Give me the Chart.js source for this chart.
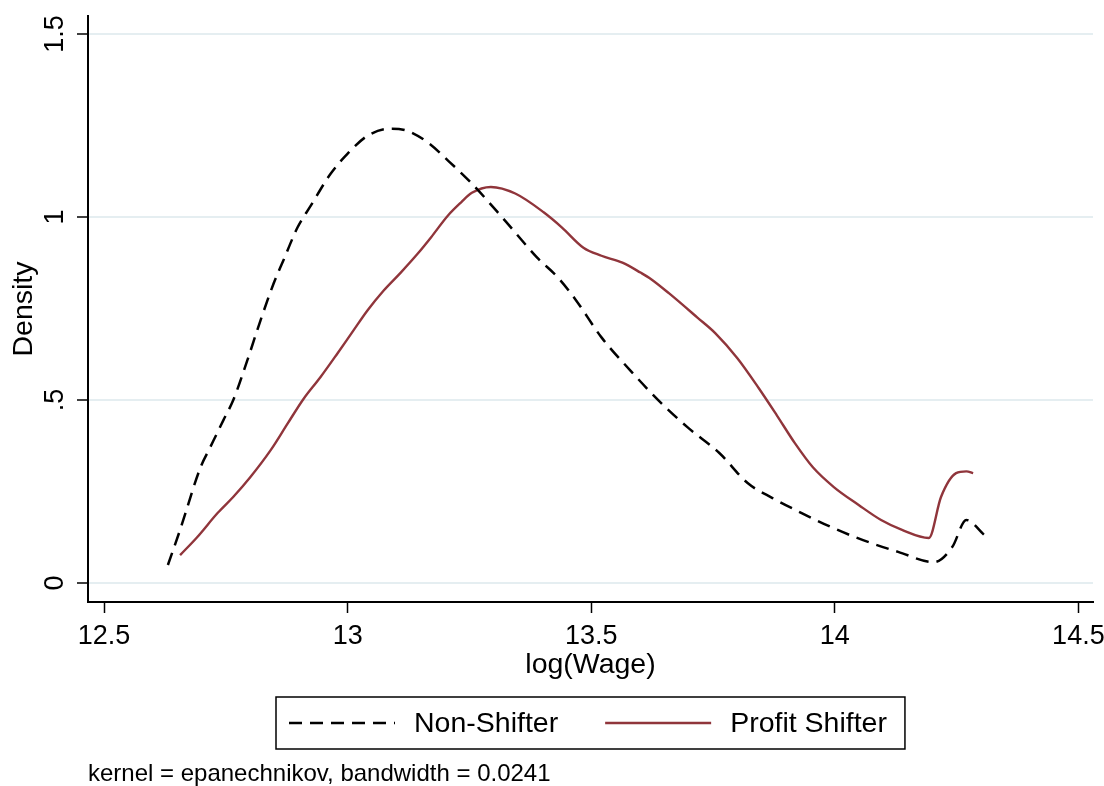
<!DOCTYPE html>
<html>
<head>
<meta charset="utf-8">
<title>Kernel density of log(Wage)</title>
<script src="https://cdn.jsdelivr.net/npm/chart.js@4.4.1/dist/chart.umd.min.js"></script>
<style>
  html, body { margin: 0; padding: 0; background: #fff; }
</style>
</head>
<body>
<canvas id="densityChart" width="1104" height="786"></canvas>
<script>
const xTicks = [12.5, 13, 13.5, 14, 14.5];
const yTicks = [0, 0.5, 1, 1.5];
const seriesLabels = ['Non-Shifter', 'Profit Shifter'];
const noteText = 'kernel = epanechnikov, bandwidth = 0.0241';

// Non-Shifter density
const nonShifterX = [12.631, 12.656, 12.698, 12.718, 12.745, 12.765, 12.794, 12.821, 12.848, 12.868,
  12.897, 12.924, 12.965, 13.000, 13.041, 13.088, 13.123, 13.165, 13.206, 13.255,
  13.323, 13.389, 13.432, 13.469, 13.521, 13.580, 13.638, 13.698, 13.763, 13.821,
  13.872, 13.932, 13.992, 14.058, 14.130, 14.204, 14.241, 14.270, 14.307];
const nonShifterY = [0.049, 0.145, 0.316, 0.371, 0.445, 0.499, 0.608, 0.717, 0.818, 0.881,
  0.971, 1.030, 1.118, 1.173, 1.222, 1.241, 1.235, 1.203, 1.154, 1.091,
  0.990, 0.889, 0.834, 0.772, 0.671, 0.581, 0.499, 0.425, 0.355, 0.273,
  0.232, 0.191, 0.153, 0.117, 0.085, 0.057, 0.098, 0.172, 0.131];

// Profit Shifter density
const profitX = [12.656, 12.691, 12.733, 12.765, 12.800, 12.842, 12.877, 12.909, 12.944, 12.979,
  13.012, 13.041, 13.074, 13.109, 13.144, 13.171, 13.206, 13.233, 13.255, 13.294,
  13.344, 13.403, 13.440, 13.484, 13.521, 13.564, 13.601, 13.623, 13.660, 13.718,
  13.755, 13.800, 13.844, 13.881, 13.918, 13.955, 13.998, 14.049, 14.095, 14.138,
  14.193, 14.218, 14.249, 14.270, 14.284];
const profitY = [0.076, 0.125, 0.191, 0.235, 0.289, 0.363, 0.436, 0.502, 0.562, 0.627,
  0.690, 0.745, 0.799, 0.848, 0.900, 0.944, 1.004, 1.040, 1.066, 1.082,
  1.064, 1.012, 0.971, 0.916, 0.894, 0.875, 0.848, 0.830, 0.791, 0.725,
  0.682, 0.614, 0.532, 0.458, 0.382, 0.316, 0.262, 0.213, 0.172, 0.145,
  0.123, 0.235, 0.300, 0.305, 0.300];

const FONT = '"Liberation Sans", Arial, sans-serif';
const toPoints = (xs, ys) => xs.map((x, i) => ({ x: x, y: ys[i] }));

// boxed legend under the axis title, like Stata draws it
const legendBox = {
    id: 'legendBox',
    afterDraw(chart) {
        const { ctx, chartArea } = chart;
        const sets = chart.data.datasets;
        const sample = 106, gapText = 19, gapItem = 47, padL = 13, padR = 18, h = 52;
        ctx.save();
        ctx.font = '28.5px ' + FONT;
        const widths = sets.map(d => ctx.measureText(d.label).width);
        const total = padL + padR + sets.length * (sample + gapText)
            + widths.reduce((a, b) => a + b, 0) + gapItem * (sets.length - 1);
        const left = Math.round((chartArea.left + chartArea.right) / 2 - total / 2);
        const top = chartArea.bottom + 95;
        ctx.strokeStyle = '#000';
        ctx.lineWidth = 1.5;
        ctx.strokeRect(left, top, total, h);

        let x = left + padL;
        const y = top + h / 2;
        sets.forEach((d, i) => {
            ctx.beginPath();
            ctx.setLineDash(d.borderDash || []);
            ctx.strokeStyle = d.borderColor;
            ctx.lineWidth = d.borderWidth;
            ctx.moveTo(x, y);
            ctx.lineTo(x + sample, y);
            ctx.stroke();
            ctx.setLineDash([]);
            x += sample + gapText;
            ctx.fillStyle = '#000';
            ctx.textBaseline = 'middle';
            ctx.fillText(d.label, x, y + 1);
            x += widths[i] + gapItem;
        });
        ctx.restore();
    }
};

new Chart(document.getElementById('densityChart'), {
    type: 'line',
    data: {
        datasets: [{
            label: seriesLabels[0],
            data: toPoints(nonShifterX, nonShifterY),
            borderColor: '#000000',
            borderWidth: 2.5,
            borderDash: [13, 8],
            pointRadius: 0,
            cubicInterpolationMode: 'monotone',
            fill: false
        }, {
            label: seriesLabels[1],
            data: toPoints(profitX, profitY),
            borderColor: '#90353b',
            borderWidth: 2.4,
            pointRadius: 0,
            cubicInterpolationMode: 'monotone',
            fill: false
        }]
    },
    options: {
        responsive: false,
        animation: false,
        devicePixelRatio: 1,
        layout: { padding: { top: 16, right: 11, left: 0, bottom: 0 } },
        plugins: {
            legend: { display: false },
            tooltip: { enabled: false },
            subtitle: {
                display: true,
                text: noteText,
                position: 'bottom',
                align: 'start',
                fullSize: false,
                color: '#000',
                font: { family: FONT, size: 24, lineHeight: 1 },
                padding: { top: 68, bottom: 0 }
            }
        },
        scales: {
            x: {
                type: 'linear',
                min: 12.467,
                max: 14.53,
                afterBuildTicks: s => { s.ticks = xTicks.map(v => ({ value: v })); },
                afterFit: s => { s.height = 92; s.paddingLeft = 0; s.paddingRight = 0; },
                grid: { drawOnChartArea: false, tickLength: 11, tickColor: '#000', tickWidth: 1.5 },
                border: { color: '#000', width: 2 },
                ticks: {
                    color: '#000',
                    font: { family: FONT, size: 27 },
                    padding: 7,
                    maxRotation: 0,
                    callback: v => String(v)
                },
                title: {
                    display: true,
                    text: 'log(Wage)',
                    color: '#000',
                    font: { family: FONT, size: 28.5 },
                    padding: { top: 0, bottom: 12 }
                }
            },
            y: {
                type: 'linear',
                min: -0.052,
                max: 1.549,
                afterBuildTicks: s => { s.ticks = yTicks.map(v => ({ value: v })); },
                afterFit: s => { s.width = 88; s.paddingTop = 0; s.paddingBottom = 0; },
                grid: { color: '#e5eef1', lineWidth: 2, tickLength: 11, tickColor: '#000', tickWidth: 1.5 },
                border: { color: '#000', width: 2 },
                ticks: {
                    color: '#000',
                    font: { family: FONT, size: 27 },
                    padding: 3,
                    minRotation: 90,
                    maxRotation: 90,
                    crossAlign: 'center',
                    callback: v => (v === 0.5 ? '.5' : String(v))
                },
                title: {
                    display: true,
                    text: 'Density',
                    color: '#000',
                    font: { family: FONT, size: 28.5 },
                    padding: { top: 7, bottom: 0 }
                }
            }
        }
    },
    plugins: [legendBox]
});
</script>
</body>
</html>
